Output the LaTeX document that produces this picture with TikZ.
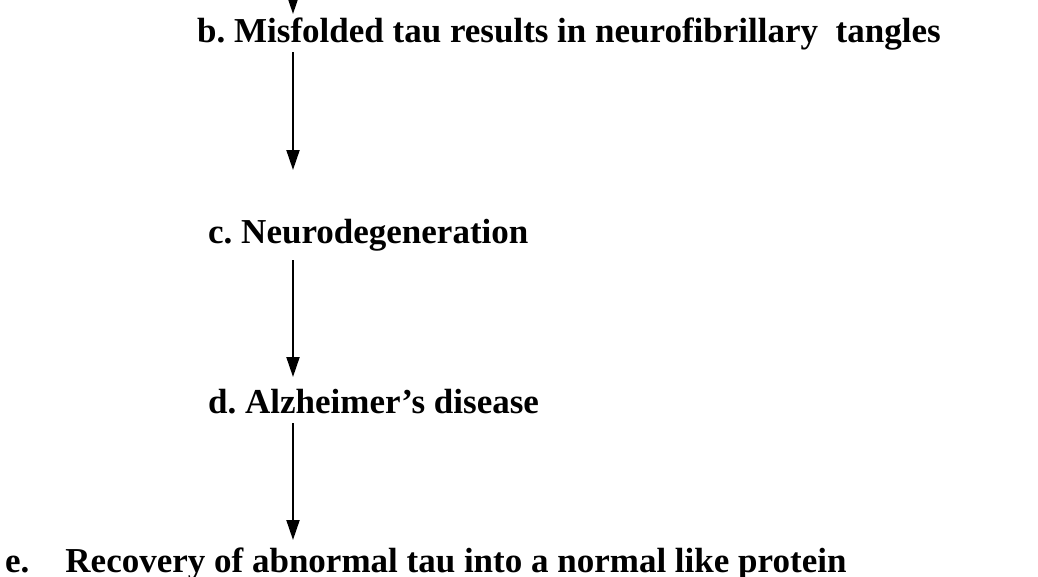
\documentclass[tikz,border=0pt]{standalone}
\usepackage{fontspec}
\setmainfont{Liberation Serif}
\usetikzlibrary{arrows.meta,calc}
\frenchspacing
\tikzset{
  lbl/.style={anchor=base west, inner sep=0pt, font=\fontsize{35}{40}\selectfont\bfseries},
  arr/.style={line width=2pt, -{Triangle[length=20pt,width=13pt]}}
}
\begin{document}
\begin{tikzpicture}[x=1pt,y=-1pt]
\useasboundingbox (0,0) rectangle (1038,576);
\coordinate (ax) at (293,0);
\coordinate (top) at (293,-20);
\node[lbl] (b) at (197,42) {b. Misfolded tau results in neurofibrillary\ \ tangles};
\node[lbl] (c) at (208,243) {c. Neurodegeneration};
\node[lbl] (d) at (208,413) {d. Alzheimer’s disease};
\node[lbl] (e) at (5,572) {e.\hspace{36pt}Recovery of abnormal tau into a normal like protein};
\draw[arr] (top) -- ($(b.base -| ax)+(0,-28)$);
\draw[arr] ($(b.base -| ax)+(0,10)$) -- ($(c.base -| ax)+(0,-73)$);
\draw[arr] ($(c.base -| ax)+(0,17)$) -- ($(d.base -| ax)+(0,-36)$);
\draw[arr] ($(d.base -| ax)+(0,10)$) -- ($(e.base -| ax)+(0,-32)$);
\end{tikzpicture}
\end{document}
